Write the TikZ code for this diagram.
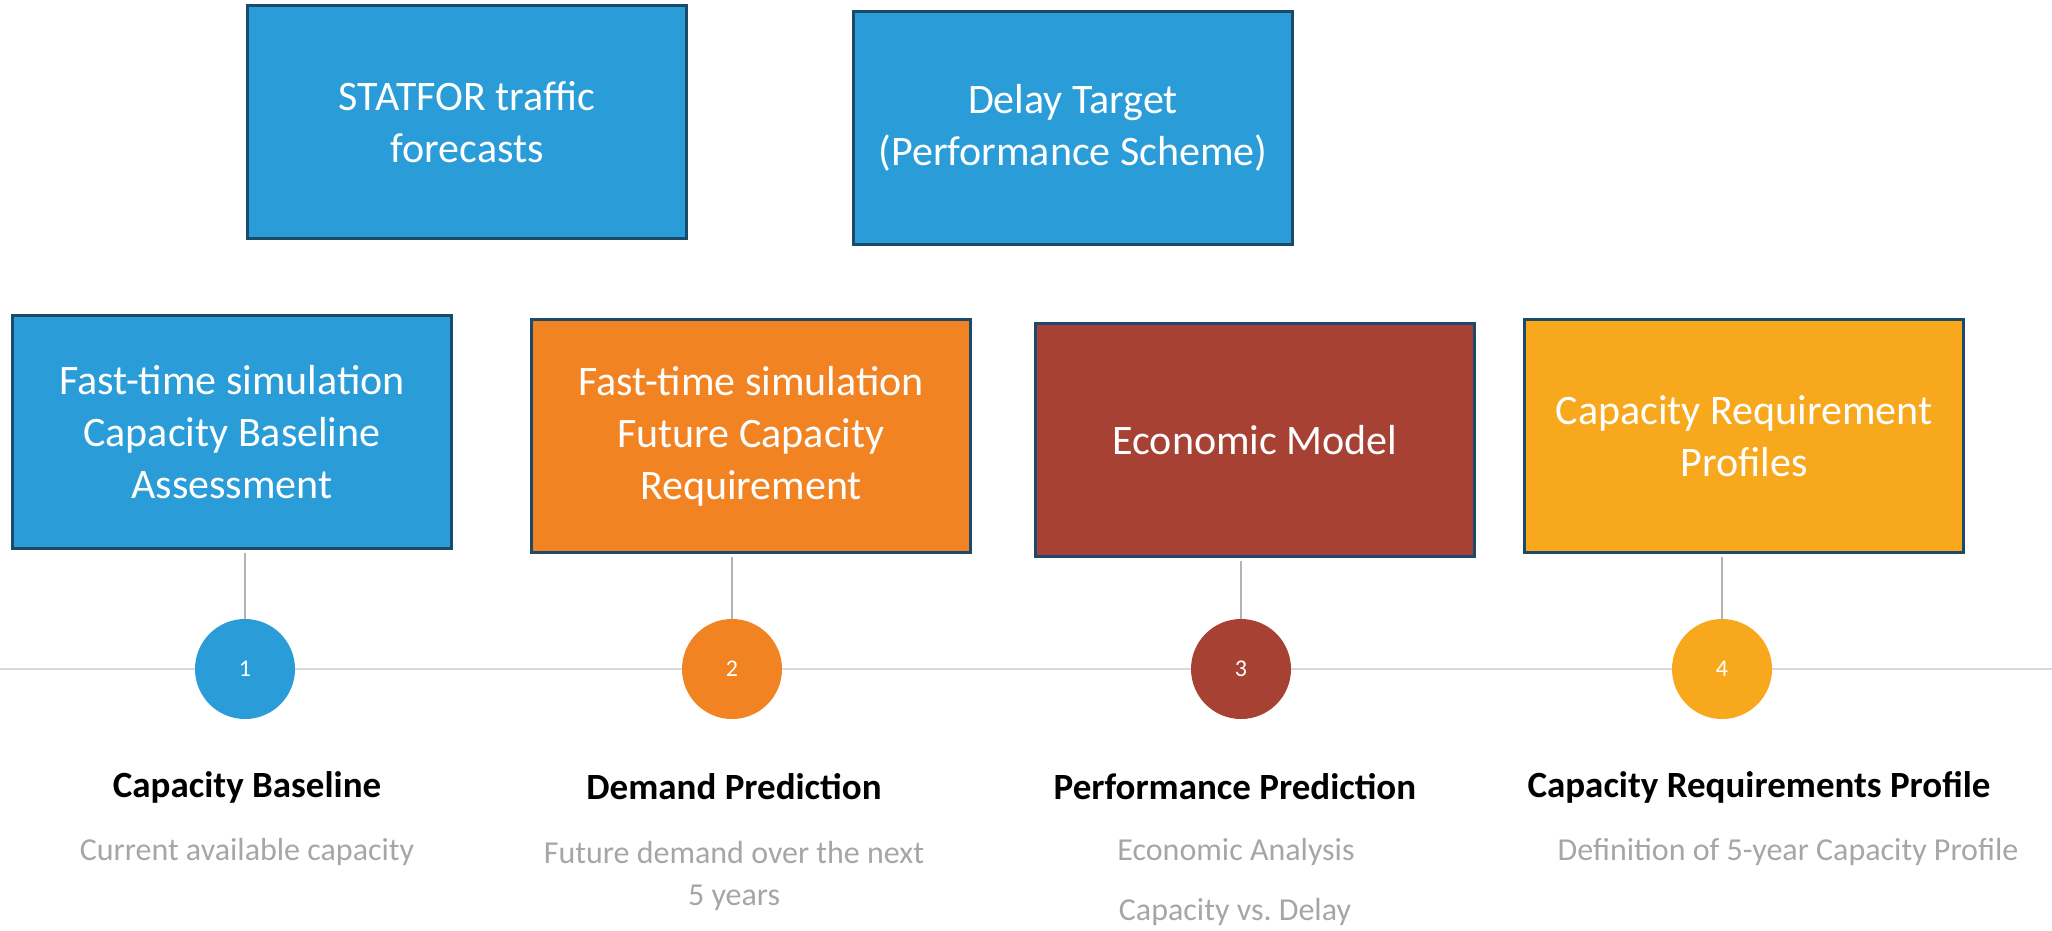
\documentclass[tikz,border=0pt]{standalone}
\usepackage{fontspec}
\setmainfont{Carlito}
\definecolor{stepblue}{HTML}{2A9DD8}
\definecolor{steporange}{HTML}{F28323}
\definecolor{stepbrown}{HTML}{A64133}
\definecolor{stepyellow}{HTML}{F7A81D}
\definecolor{boxedge}{HTML}{1B4A6B}
\definecolor{stemgray}{HTML}{B3B3B3}
\definecolor{axisgray}{HTML}{D9D9D9}
\definecolor{notegray}{HTML}{A6A6A6}
\tikzset{
	phasebox/.style={draw=boxedge, line width=3pt, minimum width=439pt, minimum height=233pt,
		inner sep=0pt, text=white, align=center, font=\fontsize{42}{52}\selectfont},
	phasedot/.style={circle, minimum size=100pt, inner sep=0pt, text=white,
		font=\fontsize{24}{28}\selectfont},
	phasetitle/.style={font=\fontsize{37}{44}\selectfont\bfseries},
	phasenote/.style={text=notegray, font=\fontsize{32}{38}\selectfont},
	stem/.style={draw=stemgray, line width=2pt, shorten >=3pt},
}
\begin{document}
\begin{tikzpicture}[x=1pt, y=-1pt]
		\useasboundingbox (0,0) rectangle (2052,931);

		% inputs
		\node[phasebox, fill=stepblue] (statfor) at (467,122) {STATFOR traffic\\forecasts};
		\node[phasebox, fill=stepblue] (delay) at (1073,128) {Delay Target\\(Performance Scheme)};

		% models
		\node[phasebox, fill=stepblue] (sim1) at (232,432) {Fast-time simulation\\Capacity Baseline\\Assessment};
		\node[phasebox, fill=steporange] (sim2) at (751,436) {Fast-time simulation\\Future Capacity\\Requirement};
		\node[phasebox, fill=stepbrown] (econ) at (1255,440) {Economic Model};
		\node[phasebox, fill=stepyellow] (prof) at (1744,436) {Capacity Requirement\\Profiles};

		% timeline
		\coordinate (axisL) at (0,669);
		\coordinate (axisR) at (2052,669);
		\draw[axisgray, line width=2.5pt] (axisL) -- (axisR);

		\node[phasedot, fill=stepblue] (dot1) at (245,669) {1};
		\node[phasedot, fill=steporange] (dot2) at (732,669) {2};
		\node[phasedot, fill=stepbrown] (dot3) at (1241,669) {3};
		\node[phasedot, fill=stepyellow] (dot4) at (1722,669) {4};

		\draw[stem] (dot1.north) -- (dot1.north |- sim1.south);
		\draw[stem] (dot2.north) -- (dot2.north |- sim2.south);
		\draw[stem] (dot3.north) -- (dot3.north |- econ.south);
		\draw[stem] (dot4.north) -- (dot4.north |- prof.south);

		% steps
		\node[phasetitle] (title1) at (247,787) {Capacity Baseline};
		\node[phasenote] (note1) at (247,852) {Current available capacity};

		\node[phasetitle] (title2) at (734,787) {Demand Prediction};
		\node[phasenote] (note2) at (734,852) {Future demand over the next};
		\node[phasenote] (note2b) at (734,898) {5 years};

		\node[phasetitle] (title3) at (1235,787) {Performance Prediction};
		\node[phasenote] (note3) at (1236,852) {Economic Analysis};
		\node[phasenote] (note3b) at (1235,912) {Capacity vs.\ Delay};

		\node[phasetitle] (title4) at (1759,787) {Capacity Requirements Profile};
		\node[phasenote] (note4) at (1788,852) {Definition of 5-year Capacity Profile};

	\end{tikzpicture}
\end{document}
